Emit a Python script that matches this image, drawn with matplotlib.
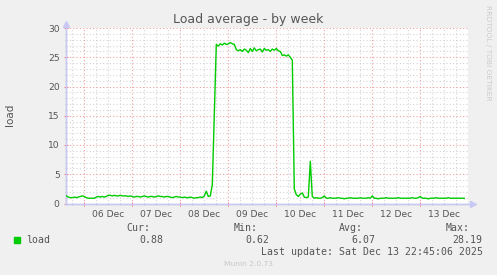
import numpy as np
import matplotlib
matplotlib.use("Agg")
import matplotlib.pyplot as plt
import matplotlib.dates as mdates
from matplotlib.ticker import MultipleLocator, NullFormatter, FuncFormatter

# hourly load samples, first one at 2025-12-05 15:00
start = np.datetime64("2025-12-05T15:00")
load = [
    1.3, 1.1, 1.0, 1.0, 1.1, 1.0, 1.1, 1.2, 1.3,
    1.2, 1.0, 0.9, 0.9, 0.9, 0.9, 1.1, 1.2, 1.1, 1.2, 1.1, 1.2,
    1.4, 1.4, 1.3, 1.4, 1.3, 1.3, 1.4, 1.3, 1.3, 1.3, 1.2, 1.3,
    1.2, 1.1, 1.2, 1.2, 1.1, 1.2, 1.3, 1.2, 1.1, 1.2, 1.2, 1.1,
    1.2, 1.3, 1.2, 1.2, 1.1, 1.2, 1.2, 1.1, 1.0, 1.1, 1.2, 1.1,
    1.1, 1.0, 1.1, 1.0, 1.0, 1.1, 1.0, 0.9, 1.0, 1.0, 1.1, 1.0,
    1.3, 2.1, 1.2, 1.3, 3.2, 15.0,
    27.2, 26.9, 27.3, 27.1, 27.4, 27.2, 27.3, 27.5, 27.3, 27.2,
    26.3,
    26.1, 26.3, 26.0, 26.4, 26.2, 25.8, 26.5, 26.0, 26.6, 26.1, 26.3,
    26.4, 25.9, 26.5, 26.2, 26.3, 26.0, 26.4, 26.2, 26.5, 26.1, 26.0,
    25.3, 25.4, 25.2, 25.4, 25.0, 24.5,
    2.5, 1.5, 1.2, 1.6, 1.8, 1.1, 1.0, 1.1, 7.2, 1.2,
    0.9, 1.0, 0.9, 0.9, 1.0,
    1.3,
    0.9, 0.9, 1.0, 0.9, 0.9, 0.9, 1.0, 0.9, 0.9, 0.8, 0.9, 0.9,
    1.0, 0.9, 0.9, 0.9, 0.9, 1.0, 0.9, 0.9, 0.9, 1.0, 0.9,
    1.3,
    0.9, 0.9, 0.8, 0.9, 0.9, 0.9, 1.0, 0.9, 0.9, 0.9, 0.9, 0.9,
    1.0, 0.9, 0.9, 0.9, 0.9, 0.9, 0.9, 1.0, 0.9, 0.9, 1.0,
    1.2,
    0.9, 0.9, 0.9, 0.8, 0.9, 0.9, 0.9, 1.0, 0.9, 0.9, 0.9,
    0.9, 0.9, 1.0, 0.9, 0.9, 0.9, 0.9, 0.9, 0.9, 0.9, 0.88,
]
stat_names = ["Cur:", "Min:", "Avg:", "Max:"]
stat_values = ["0.88", "0.62", "6.07", "28.19"]
times = start + np.arange(len(load)) * np.timedelta64(1, "h")

W, H = 497, 275
fig = plt.figure(figsize=(W / 100, H / 100), dpi=100, facecolor="#f0f0f0")
ax = fig.add_axes([66 / W, 1 - 203.5 / H, (468 - 66) / W, (203.5 - 28) / H])
ax.set_facecolor("white")

ax.plot(times, load, color="#00cc00", lw=1.0, zorder=3)

ax.set_ylim(0, 30)
ax.set_xlim(np.datetime64("2025-12-05T14:51"), np.datetime64("2025-12-13T23:51"))

ax.yaxis.set_major_locator(MultipleLocator(5))
ax.yaxis.set_minor_locator(MultipleLocator(1))
ax.xaxis.set_major_locator(mdates.DayLocator())
ax.xaxis.set_major_formatter(NullFormatter())
ax.xaxis.set_minor_locator(mdates.HourLocator(byhour=[6, 12, 18]))


def noon_label(v, pos):
    d = mdates.num2date(v)
    return d.strftime("%d %b") if d.hour == 12 else ""


ax.xaxis.set_minor_formatter(FuncFormatter(noon_label))

ax.set_axisbelow(True)
ax.grid(which="major", color="#f0a0a0", ls=(0, (1, 2)), lw=0.8)
ax.grid(which="minor", color="#d4d4d4", ls=(0, (1, 2)), lw=0.8)

ax.tick_params(which="major", color="#f08080", length=3, direction="inout", width=0.8)
ax.tick_params(which="minor", color="#c8c8c8", length=2, direction="inout", width=0.8)
ax.tick_params(axis="y", labelsize=6.6, labelcolor="#555555", pad=3)
ax.tick_params(axis="x", which="minor", labelsize=6.6, labelcolor="#555555", pad=4)

for s in ["top", "right"]:
    ax.spines[s].set_visible(False)
for s in ["left", "bottom"]:
    ax.spines[s].set_color("#c8c8f4")
    ax.spines[s].set_linewidth(1.0)
ax.plot([0, 1.012], [0, 0], color="#c8c8f4", lw=1.0, transform=ax.transAxes, clip_on=False)
ax.plot([1.012], [0], marker=">", ms=4, color="#c8c8f4", transform=ax.transAxes, clip_on=False)
ax.plot([0, 0], [0, 1.02], color="#c8c8f4", lw=1.0, transform=ax.transAxes, clip_on=False)
ax.plot([0], [1.025], marker="^", ms=4, color="#c8c8f4", transform=ax.transAxes, clip_on=False)

ax.set_ylabel("load", fontsize=7.5, color="#555555", va="center")
ax.yaxis.set_label_coords((10 - 66) / 402, (203.5 - 115) / 175.5)

def px(x, y):
    return x / W, 1 - y / H

fig.text(*px(248.5, 20), "Load average - by week", fontsize=9, color="#555555",
         ha="center", va="center")
fig.text(*px(488, 53), "RRDTOOL / TOBI OETIKER", fontsize=5.4, color="#cccccc",
         rotation=270, ha="center", va="center")

mono = "DejaVu Sans Mono"
name_right = [150, 257.3, 363.3, 470]
val_right = [163, 269.3, 375.7, 482.7]
for name, val, xn, xv in zip(stat_names, stat_values, name_right, val_right):
    fig.text(*px(xn, 228), name, fontsize=7.1, family=mono, color="#555555", ha="right", va="center")
    fig.text(*px(xv, 240), val, fontsize=7.1, family=mono, color="#555555", ha="right", va="center")

fig.patches.append(plt.Rectangle(px(14, 243), 6 / W, 6 / H, transform=fig.transFigure,
                                 color="#00cc00", figure=fig))
fig.text(*px(26.5, 240), "load", fontsize=7.1, family=mono, color="#555555", ha="left", va="center")
fig.text(*px(482.7, 252), "Last update: Sat Dec 13 22:45:06 2025", fontsize=7.1, family=mono,
         color="#555555", ha="right", va="center")
fig.text(*px(248, 264), "Munin 2.0.73", fontsize=5.4, color="#c8c8c8", ha="center", va="center")

fig.savefig("out.png", dpi=100, facecolor=fig.get_facecolor())
